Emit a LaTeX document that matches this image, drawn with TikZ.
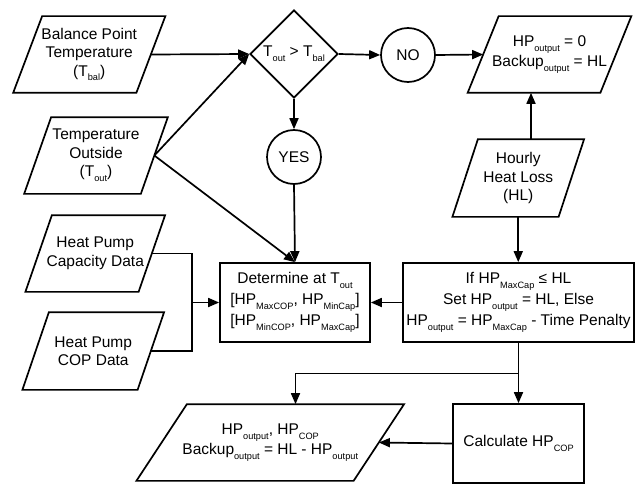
\documentclass[tikz,border=0pt]{standalone}
\usepackage{fontspec}
\setmainfont{Liberation Sans}
\usetikzlibrary{shapes.geometric,arrows.meta}
\newcommand{\sbs}[1]{\raisebox{-0.3em}{\fontsize{9.2}{9.2}\selectfont #1}}
\newcommand{\parab}[2]{\draw ([xshift=#2]#1.north west) -- ([xshift=#2]#1.north east) -- ([xshift=-#2]#1.south east) -- ([xshift=-#2]#1.south west) -- cycle;}
\begin{document}
\begin{tikzpicture}[x=1pt,y=-1pt,
  line width=1.7pt,
  base/.style={draw, inner sep=0pt, align=center, font=\fontsize{15.5}{18.5}\selectfont},
  para/.style={base, draw=none, rectangle},
  boxr/.style={base, rectangle, font=\fontsize{15.5}{21}\selectfont},
  circ/.style={base, circle, minimum size=54pt},
  arr/.style={-{Triangle[length=11pt,width=9pt]}}
]
\useasboundingbox (0,0) rectangle (636,484);

\node[para, minimum width=121.5, minimum height=75] (bal) at (89.25,54.5) {Balance Point\\Temperature\\(T\sbs{bal})};
\node[para, minimum width=115, minimum height=75] (tout) at (96,155.5) {Temperature\\Outside\\(T\sbs{out})};
\node[para, minimum width=111.5, minimum height=75] (cap) at (95.25,253.5) {Heat Pump\\Capacity Data};
\node[para, minimum width=113.5, minimum height=76] (cop) at (93.25,351) {Heat Pump\\COP Data};
\node[para, minimum width=131, minimum height=75, font=\fontsize{15.5}{20}\selectfont] (hp0) at (549.5,54.5) {HP\sbs{output} = 0\\Backup\sbs{output} = HL};
\node[para, minimum width=104.5, minimum height=76] (hl) at (518.25,178) {Hourly\\Heat Loss\\(HL)};
\node[para, minimum width=215.5, minimum height=75, font=\fontsize{15.5}{20}\selectfont] (fin) at (270.25,442.5) {HP\sbs{output}, HP\sbs{COP}\\Backup\sbs{output} = HL - HP\sbs{output}};
\parab{bal}{14.5pt}
\parab{tout}{13.5pt}
\parab{cap}{13.25pt}
\parab{cop}{13.25pt}
\parab{hp0}{15.5pt}
\parab{hl}{12.75pt}
\parab{fin}{25.25pt}

\node[base, diamond, minimum width=88, minimum height=88] (dia) at (294,54) {T\sbs{out} > T\sbs{bal}};
\node[circ] (yes) at (294,157) {YES};
\node[circ] (no) at (408,55) {NO};

\node[boxr, minimum width=150, minimum height=79] (det) at (295,302.5) {Determine at T\sbs{out}\\{[}HP\sbs{MaxCOP}, HP\sbs{MinCap}]\\{[}HP\sbs{MinCOP}, HP\sbs{MaxCap}]};
\node[boxr, minimum width=231, minimum height=79] (ifb) at (518.5,302.5) {If HP\sbs{MaxCap} ≤ HL\\Set HP\sbs{output} = HL, Else\\HP\sbs{output} = HP\sbs{MaxCap} - Time Penalty};
\node[boxr, minimum width=131, minimum height=79] (calc) at (518.5,443.5) {Calculate HP\sbs{COP}};

\coordinate (j) at (192,302.5);
\coordinate (b) at (518.5,373.5);
\coordinate (hltop) at ([xshift=12.75pt]hl.north);
\coordinate (fintop) at ([xshift=25.25pt]fin.north);

\draw[arr] (bal.east) -- (dia.west);
\draw[arr] (tout.east) -- (dia.west);
\draw[arr] (tout.east) -- (det.north);
\draw[arr] (dia.south) -- (yes.north);
\draw[arr] (yes.south) -- (det.north);
\draw[arr] (dia.east) -- (no.west);
\draw[arr] (no.east) -- (hp0.west);
\draw[arr] (hltop) -- (hltop |- hp0.south);
\draw[arr] (hl.south) -- (hl.south |- ifb.north);
\draw[arr] (ifb.west) -- (det.east);
\draw (cap.east) -| (j);
\draw (cop.east) -| (j);
\draw[arr] (j) -- (det.west);
\draw[arr] (ifb.south) -- (calc.north);
\draw[arr] (b) -| (fintop);
\draw[arr] (calc.west) -- (fin.east);
\end{tikzpicture}
\end{document}
